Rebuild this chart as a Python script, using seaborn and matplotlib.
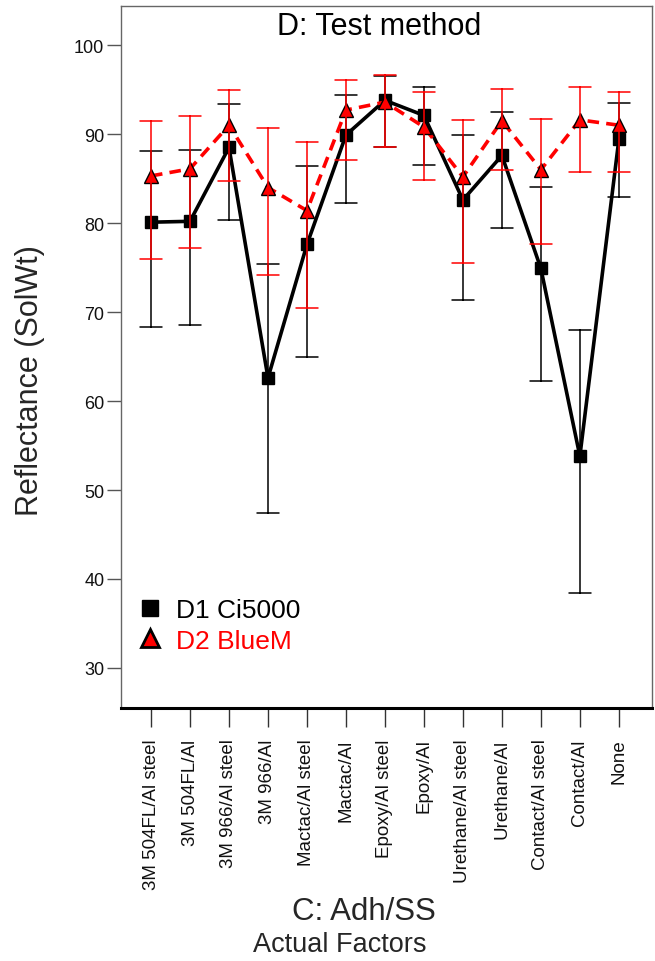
import numpy as np
import pandas as pd
import matplotlib
matplotlib.use("Agg")
import matplotlib.pyplot as plt
import seaborn as sns
from matplotlib.lines import Line2D

# ---------------- data ----------------
categories = ["3M 504FL/Al steel", "3M 504FL/Al", "3M 966/Al steel", "3M 966/Al",
              "Mactac/Al steel", "Mactac/Al", "Epoxy/Al steel", "Epoxy/Al",
              "Urethane/Al steel", "Urethane/Al", "Contact/Al steel", "Contact/Al", "None"]
series_names = ["D1 Ci5000", "D2 BlueM"]

d1_mean = [80.1, 80.2, 88.5, 62.6, 77.6, 89.9, 93.8, 92.1, 82.6, 87.6, 74.9, 53.8, 89.4]
d1_high = [88.1, 88.2, 93.4, 75.4, 86.4, 94.4, 96.5, 95.3, 89.9, 92.5, 84.1, 68.0, 93.5]
d1_low = [68.3, 68.5, 80.4, 47.4, 65.0, 82.3, 88.5, 86.5, 71.4, 79.5, 62.2, 38.4, 82.9]

d2_mean = [85.3, 86.1, 91.0, 84.0, 81.4, 92.7, 93.6, 90.8, 85.2, 91.5, 86.0, 91.6, 91.0]
d2_high = [91.5, 92.0, 95.0, 90.7, 89.1, 96.1, 96.6, 94.7, 91.6, 95.1, 91.7, 95.3, 94.7]
d2_low = [76.0, 77.2, 84.7, 74.2, 70.5, 87.1, 88.6, 84.8, 75.5, 86.0, 77.6, 85.7, 85.7]

y_ticks = [30, 40, 50, 60, 70, 80, 90, 100]

# long table: each (category, method) has its low / mean / high value;
# the median of those three is the mean, and min/max give the interval
rows = []
for name, mean, low, high in [(series_names[0], d1_mean, d1_low, d1_high),
                              (series_names[1], d2_mean, d2_low, d2_high)]:
    for c, m, lo, hi in zip(categories, mean, low, high):
        for v in (lo, m, hi):
            rows.append({"adh": c, "method": name, "refl": v})
df = pd.DataFrame(rows)

# ---------------- style ----------------
sns.set_style("white")
plt.rcParams["font.family"] = ["Liberation Sans", "DejaVu Sans"]

W, H = 655, 962
fig = plt.figure(figsize=(W / 100, H / 100), dpi=100)
ax = fig.add_axes([121 / W, 1 - 709 / H, (652 - 121) / W, (709 - 7) / H])

palette = {series_names[0]: "black", series_names[1]: "#ff0000"}
sns.pointplot(data=df, x="adh", y="refl", hue="method",
              order=categories, hue_order=series_names,
              estimator=np.median, errorbar=lambda v: (v.min(), v.max()),
              palette=palette, markers=["s", "^"], linestyles=["-", "--"],
              dodge=False, capsize=0.58, err_kws={"linewidth": 1.1},
              linewidth=2.6, markersize=8, markeredgewidth=1.0,
              legend=False, ax=ax)

for ln in ax.lines:
    if ln.get_marker() == "^":
        ln.set_markeredgecolor("black")
        ln.set_markersize(9.5)
        ln.set_dashes([3.2, 2.0])

ax.set_xlim(-0.77, 12.85)
ax.set_ylim(25.5, 104.4)
ax.set_yticks(y_ticks)
ax.set_yticklabels([str(t) for t in y_ticks], fontsize=13)
ax.set_xticks(range(len(categories)))
ax.set_xticklabels(categories, rotation=90, fontsize=13.5)
ax.set_xlabel("")
ax.set_ylabel("")

ax.tick_params(axis="y", direction="out", length=10, width=1, color="#555555",
               pad=2, left=True, labelcolor="#111111")
ax.tick_params(axis="x", direction="out", length=14, width=1, color="#333333",
               pad=8, bottom=True, labelcolor="#111111")

for side in ["top", "left", "right"]:
    ax.spines[side].set_color("#666666")
    ax.spines[side].set_linewidth(1.0)
ax.spines["bottom"].set_color("black")
ax.spines["bottom"].set_linewidth(2.2)

# title inside frame
ax.text((379 - 121) / 531, (709 - 35) / 702, "D: Test method", transform=ax.transAxes,
        ha="center", va="baseline", fontsize=22, color="black")

# axis labels
fig.text(30 / W, 1 - 381 / H, "Reflectance (SolWt)", rotation=90,
         ha="center", va="center", fontsize=22)
fig.text(364 / W, 1 - 912 / H, "C: Adh/SS", ha="center", va="center", fontsize=22.5)
fig.text(340 / W, 1 - 945 / H, "Actual Factors", ha="center", va="center", fontsize=19.5)

# legend (markers only, coloured text)
handles = [Line2D([], [], marker="s", color="black", ls="none", ms=11.5),
           Line2D([], [], marker="^", mfc="#ff0000", mec="black", mew=2.0,
                  ls="none", ms=12.5)]
leg = ax.legend(handles, series_names, loc="upper left",
                bbox_to_anchor=((139 - 121) / 531, (709 - 599) / 702),
                frameon=False, fontsize=19, handlelength=0.8,
                handletextpad=0.6, labelspacing=0.25, borderpad=0,
                borderaxespad=0)
for txt, col in zip(leg.get_texts(), ["black", "#ff0000"]):
    txt.set_color(col)

fig.savefig("out.png", dpi=100)
